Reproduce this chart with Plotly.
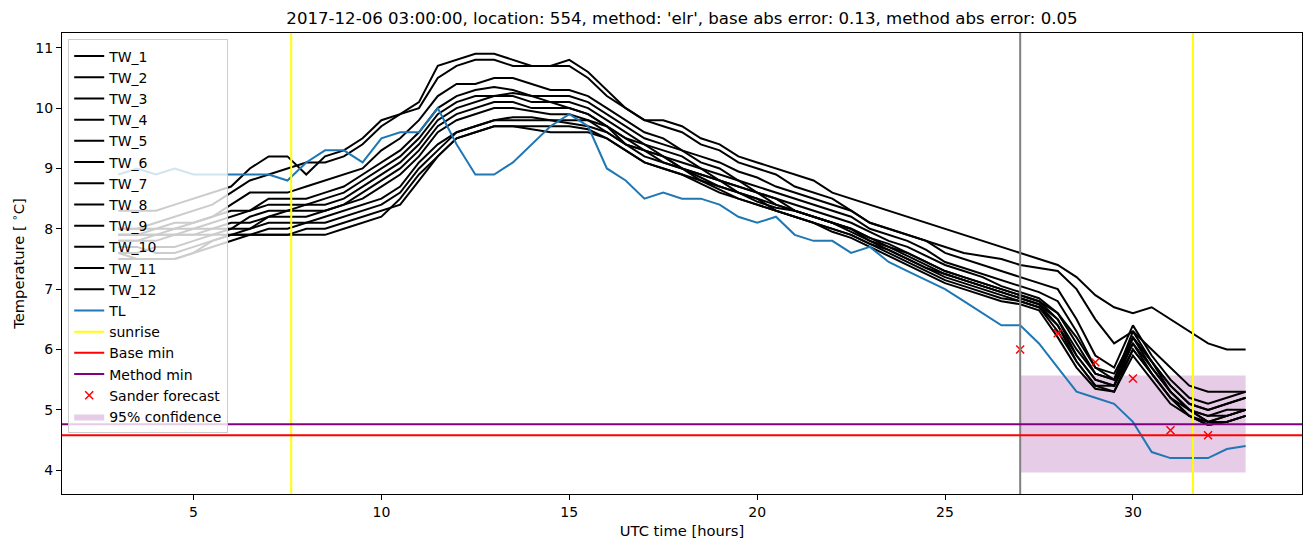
import plotly.graph_objects as go

# time axis, every half hour
hours = [3.0 + 0.5 * i for i in range(61)]

tw_1 = [8.3, 8.3, 8.3, 8.4, 8.5, 8.6, 8.7, 9.0, 9.2, 9.2,
        8.9, 9.2, 9.3, 9.5, 9.8, 9.9, 10.1, 10.7, 10.8, 10.9,
        10.9, 10.8, 10.7, 10.7, 10.8, 10.6, 10.3, 10.0, 9.8, 9.8,
        9.7, 9.5, 9.4, 9.2, 9.1, 9.0, 8.9, 8.8, 8.6, 8.5,
        8.4, 8.3, 8.2, 8.1, 8.0, 7.9, 7.8, 7.7, 7.6, 7.5,
        7.4, 7.2, 6.9, 6.7, 6.6, 6.7, 6.5, 6.3, 6.1, 6.0,
        6.0]
tw_2 = [8.0, 8.0, 8.1, 8.2, 8.3, 8.4, 8.6, 8.8, 8.9, 9.0,
        9.1, 9.1, 9.2, 9.4, 9.7, 9.9, 10.0, 10.5, 10.7, 10.8,
        10.8, 10.7, 10.7, 10.7, 10.7, 10.5, 10.2, 10.0, 9.8, 9.7,
        9.6, 9.4, 9.3, 9.1, 9.0, 8.9, 8.7, 8.6, 8.5, 8.3,
        8.1, 8.0, 7.9, 7.8, 7.7, 7.6, 7.55, 7.5, 7.4, 7.35,
        7.3, 7.0, 6.5, 6.1, 6.3, 6.0, 5.7, 5.4, 5.3, 5.3,
        5.3]
tw_3 = [7.9, 7.9, 8.0, 8.0, 8.1, 8.2, 8.4, 8.6, 8.6, 8.6,
        8.7, 8.8, 8.9, 9.0, 9.3, 9.5, 9.8, 10.2, 10.4, 10.4,
        10.5, 10.5, 10.4, 10.3, 10.3, 10.2, 10.0, 9.8, 9.6, 9.5,
        9.3, 9.2, 9.1, 8.95, 8.85, 8.7, 8.6, 8.5, 8.4, 8.3,
        8.1, 8.0, 7.9, 7.8, 7.6, 7.5, 7.4, 7.3, 7.2, 7.1,
        7.0, 6.5, 5.9, 5.7, 6.4, 5.9, 5.5, 5.2, 5.1, 5.2,
        5.3]
tw_4 = [7.8, 7.8, 7.9, 7.9, 8.0, 8.1, 8.2, 8.3, 8.5, 8.5,
        8.5, 8.6, 8.7, 8.9, 9.1, 9.3, 9.6, 10.0, 10.2, 10.3,
        10.35, 10.3, 10.2, 10.2, 10.2, 10.1, 9.9, 9.7, 9.5, 9.4,
        9.3, 9.1, 9.0, 8.8, 8.7, 8.6, 8.5, 8.4, 8.3, 8.2,
        8.0, 7.9, 7.8, 7.65, 7.45, 7.35, 7.25, 7.15, 7.05, 6.95,
        6.8, 6.3, 5.7, 5.6, 6.2, 5.8, 5.4, 5.1, 5.0, 5.1,
        5.2]
tw_5 = [8.0, 8.0, 8.0, 8.1, 8.1, 8.2, 8.3, 8.3, 8.4, 8.4,
        8.4, 8.5, 8.6, 8.8, 9.0, 9.2, 9.5, 9.9, 10.1, 10.2,
        10.2, 10.25, 10.2, 10.1, 10.1, 10.0, 9.8, 9.6, 9.4, 9.3,
        9.2, 9.0, 8.9, 8.8, 8.6, 8.5, 8.4, 8.3, 8.2, 8.1,
        7.95, 7.8, 7.7, 7.55, 7.4, 7.3, 7.2, 7.05, 6.95, 6.85,
        6.6, 6.1, 5.6, 5.5, 6.1, 5.7, 5.3, 5.0, 4.9, 5.0,
        5.0]
tw_6 = [7.6, 7.6, 7.7, 7.7, 7.8, 7.9, 8.0, 8.2, 8.3, 8.3,
        8.4, 8.4, 8.5, 8.7, 8.9, 9.1, 9.4, 9.8, 10.0, 10.1,
        10.2, 10.2, 10.1, 10.1, 10.0, 9.9, 9.7, 9.5, 9.4, 9.2,
        9.1, 9.0, 8.8, 8.7, 8.6, 8.4, 8.3, 8.2, 8.1, 8.0,
        7.85, 7.75, 7.6, 7.45, 7.3, 7.2, 7.1, 7.0, 6.9, 6.8,
        6.5, 6.0, 5.6, 5.5, 6.2, 5.8, 5.3, 5.0, 4.8, 4.9,
        5.0]
tw_7 = [7.5, 7.5, 7.5, 7.5, 7.6, 7.8, 7.9, 8.0, 8.2, 8.3,
        8.3, 8.3, 8.4, 8.6, 8.8, 9.0, 9.3, 9.7, 9.9, 10.0,
        10.1, 10.1, 10.0, 10.0, 10.0, 9.9, 9.7, 9.4, 9.3, 9.2,
        9.0, 8.9, 8.8, 8.6, 8.5, 8.4, 8.3, 8.2, 8.1, 8.0,
        7.8, 7.7, 7.55, 7.4, 7.25, 7.15, 7.05, 6.95, 6.85, 6.75,
        6.4, 5.9, 5.5, 5.4, 6.1, 5.6, 5.2, 4.9, 4.8, 4.8,
        4.9]
tw_8 = [7.9, 7.9, 7.9, 8.0, 8.0, 8.0, 8.1, 8.1, 8.2, 8.2,
        8.2, 8.3, 8.4, 8.5, 8.7, 8.9, 9.2, 9.6, 9.8, 9.9,
        10.0, 10.0, 9.95, 9.9, 9.9, 9.8, 9.6, 9.4, 9.3, 9.1,
        9.0, 8.8, 8.7, 8.6, 8.5, 8.3, 8.2, 8.1, 8.0, 7.9,
        7.75, 7.65, 7.5, 7.35, 7.2, 7.1, 7.0, 6.9, 6.8, 6.7,
        6.3, 5.8, 5.4, 5.4, 6.0, 5.6, 5.2, 4.9, 4.75, 4.8,
        4.9]
tw_9 = [7.8, 7.8, 7.8, 7.9, 7.9, 8.0, 8.0, 8.0, 8.1, 8.1,
        8.1, 8.2, 8.3, 8.4, 8.5, 8.7, 9.1, 9.4, 9.6, 9.7,
        9.8, 9.85, 9.85, 9.8, 9.8, 9.8, 9.7, 9.5, 9.3, 9.2,
        9.0, 8.9, 8.8, 8.7, 8.6, 8.5, 8.3, 8.2, 8.1, 8.0,
        7.85, 7.7, 7.6, 7.45, 7.3, 7.2, 7.1, 7.0, 6.9, 6.8,
        6.6, 6.2, 5.7, 5.5, 6.3, 5.8, 5.4, 5.1, 5.0, 5.1,
        5.2]
tw_10 = [7.7, 7.7, 7.6, 7.6, 7.7, 7.8, 7.9, 7.9, 8.0, 8.0,
         8.1, 8.1, 8.2, 8.3, 8.4, 8.6, 9.0, 9.3, 9.6, 9.7,
         9.8, 9.8, 9.8, 9.8, 9.75, 9.7, 9.6, 9.4, 9.2, 9.1,
         9.0, 8.85, 8.7, 8.6, 8.45, 8.35, 8.3, 8.2, 8.1, 7.95,
         7.8, 7.65, 7.5, 7.35, 7.25, 7.15, 7.05, 6.95, 6.85, 6.75,
         6.5, 5.9, 5.5, 5.4, 6.2, 5.7, 5.3, 5.0, 4.9, 4.9,
         5.0]
tw_11 = [7.6, 7.5, 7.5, 7.5, 7.6, 7.7, 7.8, 7.9, 7.9, 7.9,
         7.9, 7.9, 8.0, 8.1, 8.2, 8.5, 8.9, 9.2, 9.5, 9.6,
         9.7, 9.7, 9.7, 9.7, 9.7, 9.65, 9.5, 9.3, 9.1, 9.0,
         8.9, 8.8, 8.65, 8.5, 8.4, 8.3, 8.2, 8.1, 8.0, 7.9,
         7.75, 7.6, 7.45, 7.3, 7.15, 7.05, 6.95, 6.85, 6.8, 6.7,
         6.4, 5.8, 5.4, 5.3, 6.0, 5.6, 5.2, 5.0, 4.8, 4.9,
         5.0]
tw_12 = [7.9, 7.9, 7.9, 7.9, 7.9, 7.9, 7.9, 7.9, 7.9, 7.9,
         8.0, 8.0, 8.1, 8.2, 8.3, 8.4, 8.8, 9.2, 9.5, 9.6,
         9.7, 9.7, 9.65, 9.6, 9.6, 9.6, 9.5, 9.3, 9.1, 9.0,
         8.9, 8.75, 8.6, 8.5, 8.4, 8.3, 8.2, 8.1, 7.95, 7.85,
         7.7, 7.55, 7.4, 7.25, 7.1, 7.0, 6.9, 6.8, 6.75, 6.65,
         6.2, 5.7, 5.35, 5.3, 5.9, 5.5, 5.1, 4.9, 4.75, 4.8,
         4.9]
tl = [8.9, 9.0, 8.9, 9.0, 8.9, 8.9, 8.9, 8.9, 8.9, 8.8,
      9.1, 9.3, 9.3, 9.1, 9.5, 9.6, 9.6, 10.0, 9.4, 8.9,
      8.9, 9.1, 9.4, 9.7, 9.9, 9.7, 9.0, 8.8, 8.5, 8.6,
      8.5, 8.5, 8.4, 8.2, 8.1, 8.2, 7.9, 7.8, 7.8, 7.6,
      7.7, 7.45, 7.3, 7.15, 7.0, 6.8, 6.6, 6.4, 6.4, 6.1,
      5.7, 5.3, 5.2, 5.1, 4.8, 4.3, 4.2, 4.2, 4.2, 4.35,
      4.4]

tw_series = [tw_1, tw_2, tw_3, tw_4, tw_5, tw_6, tw_7, tw_8, tw_9, tw_10, tw_11, tw_12]

sunrise_hours = [7.6, 31.6]
forecast_hour = 27.0
base_min = 4.58
method_min = 4.76
sander_hours = [27, 28, 29, 30, 31, 32]
sander_values = [6.0, 6.27, 5.79, 5.52, 4.66, 4.58]
conf_hours = [27, 33]
conf_low = 3.96
conf_high = 5.57

title = "2017-12-06 03:00:00, location: 554, method: 'elr', base abs error: 0.13, method abs error: 0.05"

fig = go.Figure()

# confidence band (drawn first so lines sit on top)
fig.add_trace(go.Scatter(
    x=[conf_hours[0], conf_hours[1], conf_hours[1], conf_hours[0], conf_hours[0]],
    y=[conf_low, conf_low, conf_high, conf_high, conf_low],
    fill="toself", fillcolor="rgba(128,0,128,0.2)", line=dict(width=0),
    mode="lines", name="95% confidence", legendrank=18, hoverinfo="skip"))

for i, vals in enumerate(tw_series):
    fig.add_trace(go.Scatter(x=hours, y=vals, mode="lines", name=f"TW_{i + 1}",
                             line=dict(color="black", width=2), legendrank=i + 1))

fig.add_trace(go.Scatter(x=hours, y=tl, mode="lines", name="TL",
                         line=dict(color="#1f77b4", width=2), legendrank=13))

# legend entries for the reference lines (drawn as shapes)
fig.add_trace(go.Scatter(x=[None], y=[None], mode="lines", name="sunrise",
                         line=dict(color="yellow", width=2), legendrank=14))
fig.add_trace(go.Scatter(x=[None], y=[None], mode="lines", name="Base min",
                         line=dict(color="red", width=2), legendrank=15))
fig.add_trace(go.Scatter(x=[None], y=[None], mode="lines", name="Method min",
                         line=dict(color="purple", width=2), legendrank=16))

fig.add_trace(go.Scatter(x=sander_hours, y=sander_values, mode="markers", name="Sander forecast",
                         marker=dict(symbol="x-thin", size=8, color="red",
                                     line=dict(color="red", width=1.5)),
                         legendrank=17))

for h in sunrise_hours:
    fig.add_vline(x=h, line=dict(color="yellow", width=2))
fig.add_vline(x=forecast_hour, line=dict(color="gray", width=2))
fig.add_hline(y=base_min, line=dict(color="red", width=2))
fig.add_hline(y=method_min, line=dict(color="purple", width=2))

axis_style = dict(showline=True, linecolor="black", linewidth=1, mirror=True,
                  ticks="outside", ticklen=5, tickcolor="black", showgrid=False,
                  zeroline=False, automargin=False, tickfont=dict(size=14, color="black"))

# the page body adds an 8px margin, so the figure is a bit smaller than the window
fig.update_layout(
    width=1303, height=539,
    margin=dict(l=54, r=9, t=25, b=53),
    plot_bgcolor="white", paper_bgcolor="white",
    font=dict(family="DejaVu Sans", color="black"),
    title=dict(text=title, x=0.5, xref="paper", xanchor="center", y=0.981, yanchor="middle",
               font=dict(size=16.6, color="black")),
    xaxis=dict(range=[1.5, 34.5], tickvals=[5, 10, 15, 20, 25, 30],
               title=dict(text="UTC time [hours]", font=dict(size=14.7), standoff=6), **axis_style),
    yaxis=dict(range=[3.605, 11.245], tickvals=[4, 5, 6, 7, 8, 9, 10, 11],
               title=dict(text="Temperature [ <sup>∘</sup>C]", font=dict(size=14.7), standoff=10), **axis_style),
    legend=dict(x=0.005, y=0.986, xanchor="left", yanchor="top",
                bgcolor="rgba(255,255,255,0.8)", bordercolor="#cccccc", borderwidth=1,
                font=dict(size=14), tracegroupgap=0, itemwidth=30),
    showlegend=True,
)

fig.write_html("out.html")
